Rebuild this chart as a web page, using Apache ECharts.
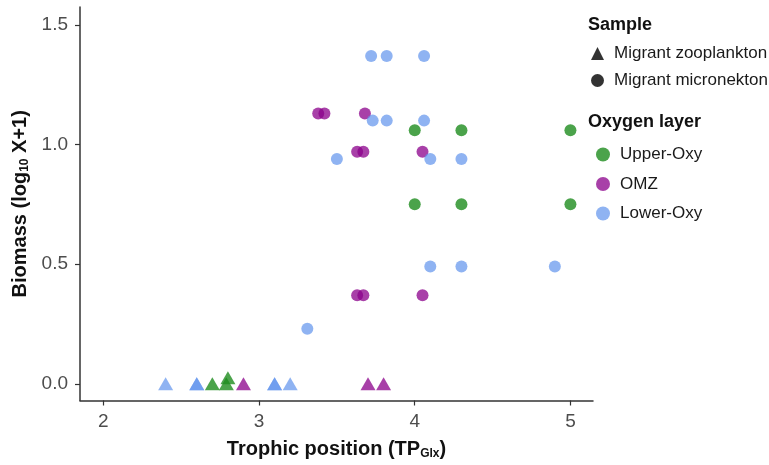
<!DOCTYPE html>
<html>
<head>
<meta charset="utf-8">
<script src="https://cdn.jsdelivr.net/npm/echarts@6/dist/echarts.min.js"></script>
<style>
  html, body { margin: 0; padding: 0; background: #fff; }
  #chart { width: 769px; height: 465px; }
</style>
</head>
<body>
<div id="chart"></div>
<script>
// Migrant zooplankton (triangles): trophic position, biomass, oxygen layer
const tpZoo    = [2.40, 2.60, 2.60, 3.10, 3.10, 3.20, 2.70, 2.79, 2.80, 2.90, 3.70, 3.80];
const bioZoo   = [0.00, 0.00, 0.00, 0.00, 0.00, 0.00, 0.00, 0.00, 0.025, 0.00, 0.00, 0.00];
const layerZoo = ['Lower-Oxy', 'Lower-Oxy', 'Lower-Oxy', 'Lower-Oxy', 'Lower-Oxy', 'Lower-Oxy',
                  'Upper-Oxy', 'Upper-Oxy', 'Upper-Oxy', 'OMZ', 'OMZ', 'OMZ'];

// Migrant micronekton (circles)
const tpMic = [
  3.72, 3.82, 4.06, 3.73, 3.82, 4.06, 3.50, 4.10, 4.30, 4.10, 4.30, 4.90, 3.31,
  3.38, 3.42, 3.68, 3.63, 3.67, 4.05, 3.63, 3.67, 4.05,
  4.00, 4.30, 5.00, 4.00, 4.30, 5.00
];
const bioMic = [
  1.37, 1.37, 1.37, 1.10, 1.10, 1.10, 0.94, 0.94, 0.94, 0.49, 0.49, 0.49, 0.23,
  1.13, 1.13, 1.13, 0.97, 0.97, 0.97, 0.37, 0.37, 0.37,
  1.06, 1.06, 1.06, 0.75, 0.75, 0.75
];
const layerMic = [
  'Lower-Oxy', 'Lower-Oxy', 'Lower-Oxy', 'Lower-Oxy', 'Lower-Oxy', 'Lower-Oxy', 'Lower-Oxy',
  'Lower-Oxy', 'Lower-Oxy', 'Lower-Oxy', 'Lower-Oxy', 'Lower-Oxy', 'Lower-Oxy',
  'OMZ', 'OMZ', 'OMZ', 'OMZ', 'OMZ', 'OMZ', 'OMZ', 'OMZ', 'OMZ',
  'Upper-Oxy', 'Upper-Oxy', 'Upper-Oxy', 'Upper-Oxy', 'Upper-Oxy', 'Upper-Oxy'
];

const layers = ['Upper-Oxy', 'OMZ', 'Lower-Oxy'];
const samples = ['Migrant zooplankton', 'Migrant micronekton'];
const xTicks = [2, 3, 4, 5];
const yTicks = [0, 0.5, 1.0, 1.5];

const layerColor = { 'Upper-Oxy': '#1e8c1e', 'OMZ': '#8b008b', 'Lower-Oxy': '#6495ed' };
const layerAlpha = { 'Upper-Oxy': 0.8, 'OMZ': 0.75, 'Lower-Oxy': 0.72 };

function pick(tp, bio, lay, layer) {
  const out = [];
  for (let i = 0; i < tp.length; i++) if (lay[i] === layer) out.push([tp[i], bio[i]]);
  return out;
}

const series = [];
layers.forEach(function (layer) {
  series.push({
    type: 'scatter', name: layer + ' micronekton', symbol: 'circle', symbolSize: 12,
    itemStyle: { color: layerColor[layer], opacity: layerAlpha[layer] },
    data: pick(tpMic, bioMic, layerMic, layer), z: 2
  });
});
layers.forEach(function (layer) {
  series.push({
    type: 'scatter', name: layer + ' zooplankton', symbol: 'triangle', symbolSize: [15, 13],
    itemStyle: { color: layerColor[layer], opacity: layerAlpha[layer] },
    data: pick(tpZoo, bioZoo, layerZoo, layer), z: 3
  });
});
// Legend-only entries
series.push({ type: 'scatter', name: samples[0], symbol: 'triangle', itemStyle: { color: '#000' }, data: [] });
series.push({ type: 'scatter', name: samples[1], symbol: 'circle', itemStyle: { color: '#000' }, data: [] });
layers.forEach(function (layer) {
  series.push({ type: 'scatter', name: layer, symbol: 'circle',
    itemStyle: { color: layerColor[layer], opacity: layerAlpha[layer] }, data: [] });
});

const FONT = 'Liberation Sans';
const axisText = { color: '#4d4d4d', fontSize: 19, fontFamily: FONT };
const titleRich = {
  b: { fontSize: 20, fontWeight: 'bold', color: '#111', fontFamily: FONT, lineHeight: 22 },
  s: { fontSize: 12, fontWeight: 'bold', color: '#111', fontFamily: FONT, lineHeight: 22, padding: [9, 0, 0, 0] }
};
const legendText = { fontSize: 17, color: '#1a1a1a', fontFamily: FONT, padding: [0, 0, 0, 5] };

const chart = echarts.init(document.getElementById('chart'), null, { renderer: 'canvas' });
chart.setOption({
  animation: false,
  backgroundColor: '#fff',
  grid: { left: 80, right: 176, top: 7, bottom: 60, containLabel: false },
  xAxis: {
    type: 'value', min: 1.85, max: 5.145,
    name: '{b|Trophic position (TP}{s|Glx}{b|)}',
    nameLocation: 'middle', nameGap: 38,
    nameTextStyle: { rich: titleRich },
    axisLine: { show: true, onZero: false, lineStyle: { color: '#333', width: 1.5 } },
    axisTick: { show: true, length: 5, lineStyle: { color: '#333', width: 1.2 }, customValues: xTicks },
    axisLabel: Object.assign({ margin: 12, customValues: xTicks, formatter: function (v) { return String(v); } }, axisText),
    splitLine: { show: false }
  },
  yAxis: {
    type: 'value', min: -0.07, max: 1.575,
    name: '{b|Biomass (log}{s|10}{b| X+1)}',
    nameLocation: 'middle', nameGap: 48, nameRotate: 90,
    nameTextStyle: { rich: titleRich },
    axisLine: { show: true, onZero: false, lineStyle: { color: '#333', width: 1.5 } },
    axisTick: { show: true, length: 5, lineStyle: { color: '#333', width: 1.2 }, customValues: yTicks },
    axisLabel: Object.assign({ margin: 12, customValues: yTicks, formatter: function (v) { return v.toFixed(1); } }, axisText),
    splitLine: { show: false }
  },
  legend: [
    {
      data: samples, orient: 'vertical', left: 591, top: 45, padding: 0,
      itemWidth: 13, itemHeight: 13, itemGap: 10, selectedMode: false,
      textStyle: legendText
    },
    {
      data: layers, orient: 'vertical', left: 596, top: 146, padding: 0,
      itemWidth: 14, itemHeight: 14, itemGap: 12.5, selectedMode: false,
      textStyle: legendText
    }
  ],
  graphic: [
    { type: 'text', left: 588, top: 16, style: { text: 'Sample', fontSize: 18, fontWeight: 'bold', fill: '#111', fontFamily: FONT } },
    { type: 'text', left: 588, top: 113, style: { text: 'Oxygen layer', fontSize: 18, fontWeight: 'bold', fill: '#111', fontFamily: FONT } }
  ],
  series: series
});
</script>
</body>
</html>
